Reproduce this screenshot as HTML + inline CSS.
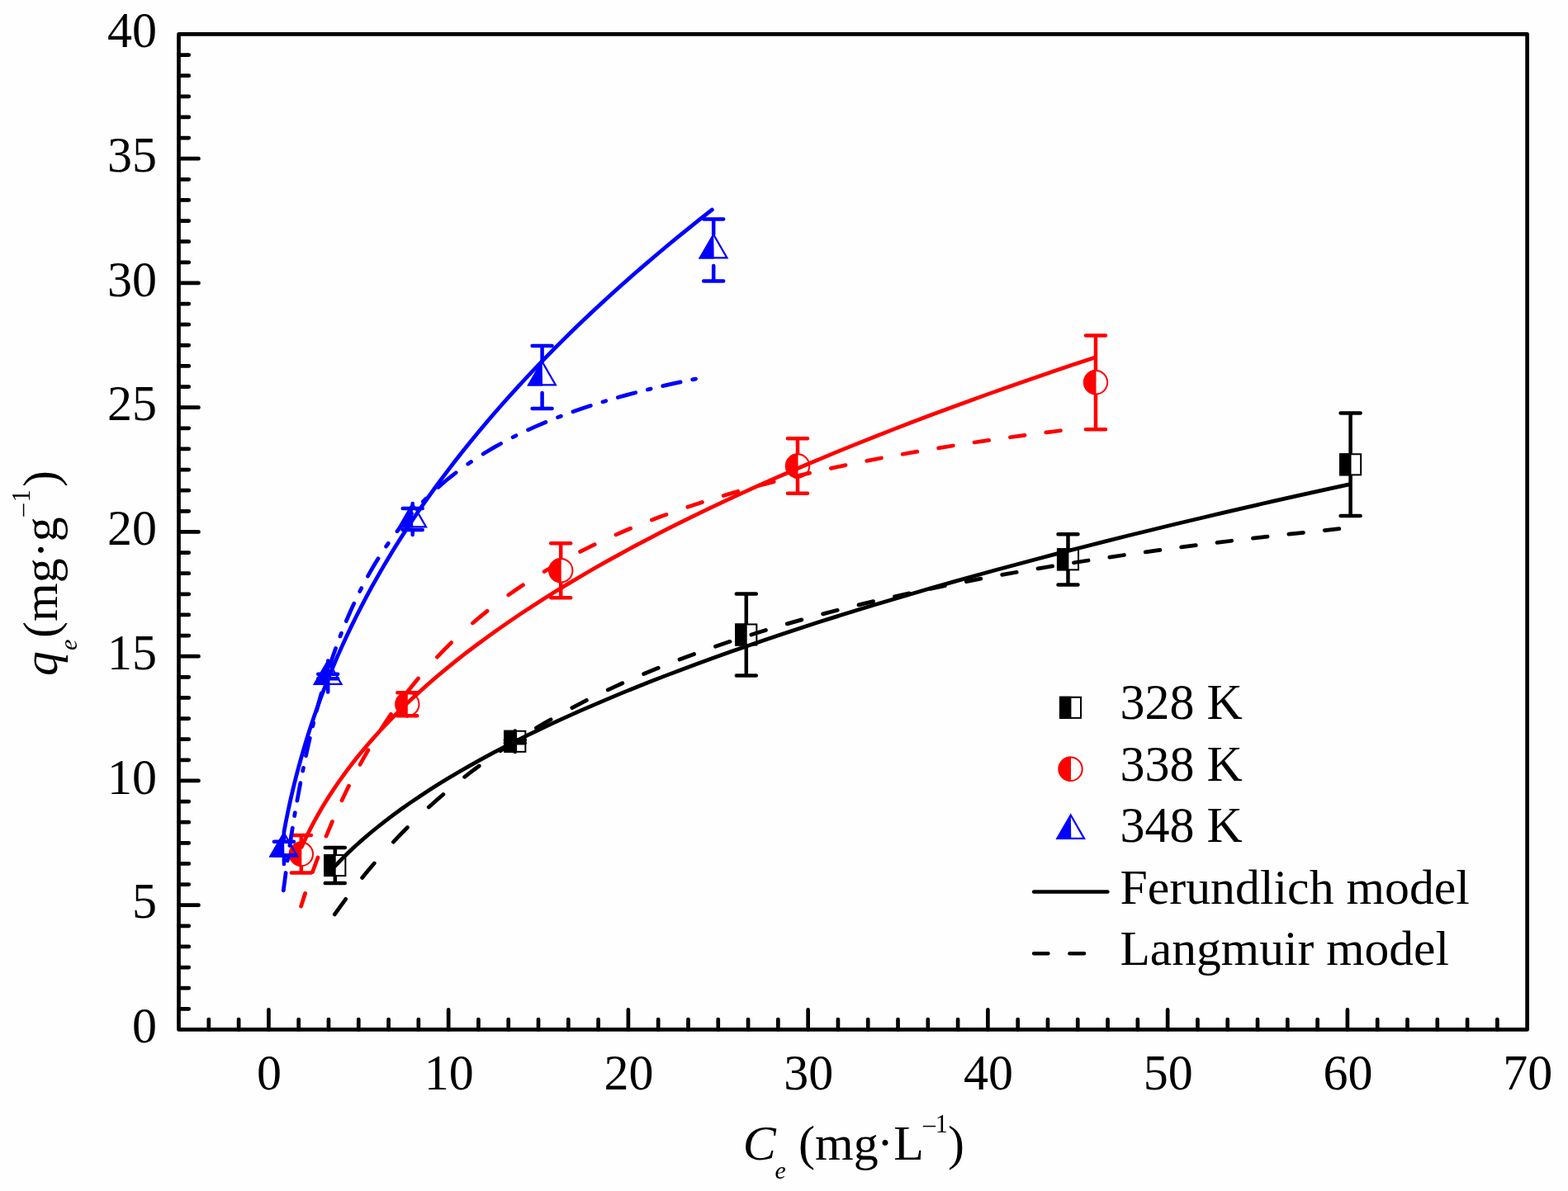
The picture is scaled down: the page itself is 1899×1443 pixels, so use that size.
<!DOCTYPE html>
<html lang="en"><head><meta charset="utf-8"><title>Adsorption isotherms</title>
<style>html,body{margin:0;padding:0;background:#fff}body{width:1899px;height:1443px;overflow:hidden}svg{display:block}text{font-family:"Liberation Serif",serif;fill:#000}</style></head><body>
<svg width="1899" height="1443" viewBox="0 0 1899 1443">
<rect width="1899" height="1443" fill="#fefefe"/>
<g id="data">
<path d="M393.8 1027.1H417.8M393.8 1069.9H417.8M611.8 896.4H635.8M611.8 900.2H635.8M623.8 885.5V896.4M623.8 911.1V900.2M891.8 719.4H915.8M891.8 818.6H915.8M1281.5 647.2H1305.5M1281.5 708.4H1305.5M1623.6 500.6H1647.6M1623.6 625H1647.6" fill="none" stroke="#000" stroke-width="4.5" stroke-linecap="round"/><path d="M405.8 1035.75V1027.1M405.8 1061.25V1069.9M903.8 756.25V719.4M903.8 781.75V818.6M1293.5 665.05V647.2M1293.5 690.55V708.4M1635.6 550.05V500.6M1635.6 575.55V625" fill="none" stroke="#000" stroke-width="4.5"/>
<rect x="392.25" y="1034.95" width="14.45" height="27.1" fill="#000"/><rect x="393.25" y="1035.95" width="25.1" height="25.1" fill="none" stroke="#000" stroke-width="2"/>
<rect x="610.25" y="884.75" width="14.45" height="27.1" fill="#000"/><rect x="611.25" y="885.75" width="25.1" height="25.1" fill="none" stroke="#000" stroke-width="2"/>
<rect x="890.25" y="755.45" width="14.45" height="27.1" fill="#000"/><rect x="891.25" y="756.45" width="25.1" height="25.1" fill="none" stroke="#000" stroke-width="2"/>
<rect x="1279.95" y="664.25" width="14.45" height="27.1" fill="#000"/><rect x="1280.95" y="665.25" width="25.1" height="25.1" fill="none" stroke="#000" stroke-width="2"/>
<rect x="1622.05" y="549.25" width="14.45" height="27.1" fill="#000"/><rect x="1623.05" y="550.25" width="25.1" height="25.1" fill="none" stroke="#000" stroke-width="2"/>
<path d="M352.8 1012H376.8M352.8 1057.6H376.8M481.3 839.2H505.3M481.3 867.2H505.3M493.3 838.7V839.2M493.3 867.7V867.2M667.2 658.2H691.2M667.2 724.2H691.2M954 531.2H978M954 597.8H978M1315 406.4H1339M1315 520.2H1339" fill="none" stroke="#ff0000" stroke-width="4.5" stroke-linecap="round"/><path d="M364.8 1020.4V1012M364.8 1049.2V1057.6M679.2 676.8V658.2M679.2 705.6V724.2M966 550.1V531.2M966 578.9V597.8M1327 448.9V406.4M1327 477.7V520.2" fill="none" stroke="#ff0000" stroke-width="4.5"/>
<path d="M365.3 1019.61A15.2 15.2 0 0 0 365.3 1049.99Z" fill="#ff0000"/><circle cx="364.8" cy="1034.8" r="14.2" fill="none" stroke="#ff0000" stroke-width="2"/>
<path d="M493.8 838.01A15.2 15.2 0 0 0 493.8 868.39Z" fill="#ff0000"/><circle cx="493.3" cy="853.2" r="14.2" fill="none" stroke="#ff0000" stroke-width="2"/>
<path d="M679.7 676.01A15.2 15.2 0 0 0 679.7 706.39Z" fill="#ff0000"/><circle cx="679.2" cy="691.2" r="14.2" fill="none" stroke="#ff0000" stroke-width="2"/>
<path d="M966.5 549.31A15.2 15.2 0 0 0 966.5 579.69Z" fill="#ff0000"/><circle cx="966" cy="564.5" r="14.2" fill="none" stroke="#ff0000" stroke-width="2"/>
<path d="M1327.5 448.11A15.2 15.2 0 0 0 1327.5 478.49Z" fill="#ff0000"/><circle cx="1327" cy="463.3" r="14.2" fill="none" stroke="#ff0000" stroke-width="2"/>
<path d="M331.9 1019.75H355.9M331.9 1036.25H355.9M343.9 1009V1019.75M343.9 1047V1036.25M385.2 816.7H409.2M385.2 822.3H409.2M397.2 800.5V816.7M397.2 838.5V822.3M487.7 615.9H511.7M487.7 642.1H511.7M499.7 610V615.9M499.7 648V642.1M644.6 419.1H668.6M644.6 494.9H668.6M656.6 438V419.1M656.6 476V494.9M852.2 265.6H876.2M852.2 340.4H876.2M864.2 284V265.6M864.2 322V340.4" fill="none" stroke="#0000ff" stroke-width="4.5" stroke-linecap="round"/>
<path d="M343.9 1006.98L325.7 1038.51L344.4 1038.51Z" fill="#0000ff"/><path d="M343.9 1009.18L327.61 1037.41L360.19 1037.41Z" fill="none" stroke="#0000ff" stroke-width="2.2" stroke-linejoin="miter"/>
<path d="M397.2 798.48L379 830.01L397.7 830.01Z" fill="#0000ff"/><path d="M397.2 800.68L380.91 828.91L413.49 828.91Z" fill="none" stroke="#0000ff" stroke-width="2.2" stroke-linejoin="miter"/>
<path d="M499.7 607.98L481.5 639.51L500.2 639.51Z" fill="#0000ff"/><path d="M499.7 610.18L483.41 638.41L515.99 638.41Z" fill="none" stroke="#0000ff" stroke-width="2.2" stroke-linejoin="miter"/>
<path d="M656.6 435.98L638.4 467.51L657.1 467.51Z" fill="#0000ff"/><path d="M656.6 438.18L640.31 466.41L672.89 466.41Z" fill="none" stroke="#0000ff" stroke-width="2.2" stroke-linejoin="miter"/>
<path d="M864.2 281.98L846 313.51L864.7 313.51Z" fill="#0000ff"/><path d="M864.2 284.18L847.91 312.41L880.49 312.41Z" fill="none" stroke="#0000ff" stroke-width="2.2" stroke-linejoin="miter"/>
</g>
<g id="fits" fill="none" stroke-linecap="round" stroke-linejoin="round" stroke-width="4.75">
<path d="M405.97 1049.07 L413.44 1041.33 L421.37 1033.51 L429.58 1025.8 L438.2 1018.07 L447.25 1010.3 L456.41 1002.76 L466.13 995.09 L475.92 987.65 L486.03 980.26 L496.83 972.66 L507.83 965.18 L519.46 957.55 L531.2 950.11 L543.52 942.56 L555.84 935.24 L568.69 927.85 L582.06 920.38 L595.33 913.19 L609.74 905.6 L623.98 898.31 L638.71 890.98 L653.92 883.61 L669.62 876.21 L685.01 869.14 L701.64 861.68 L717.93 854.56 L735.5 847.07 L752.68 839.91 L770.3 832.75 L788.36 825.56 L806.85 818.37 L825.78 811.17 L845.14 803.96 L864.95 796.75 L885.19 789.53 L904.82 782.67 L925.91 775.44 L947.44 768.21 L969.4 760.98 L990.67 754.11 L1013.49 746.88 L1035.57 740.01 L1059.23 732.78 L1082.12 725.91 L1106.64 718.68 L1130.34 711.82 L1155.71 704.6 L1180.21 697.74 L1206.43 690.53 L1231.75 683.68 L1258.82 676.47 L1284.95 669.63 L1312.87 662.43 L1339.8 655.6 L1367.13 648.77 L1394.85 641.94 L1424.46 634.77 L1452.99 627.95 L1481.91 621.14 L1511.23 614.34 L1542.51 607.19 L1572.64 600.39 L1603.16 593.61 L1634.08 586.83" stroke="#000"/>
<path d="M405.31 1107.93 L411.93 1098.59 L418.69 1089.33M438.63 1063.53 L445.77 1054.8 L453.26 1045.93M476.39 1020.13 L484.69 1011.42 L493.45 1002.53M519.25 977.95 L528.17 969.98 L536.85 962.45M562.65 941.36 L571.32 934.67 L580.25 927.98M606.05 909.69 L614.82 903.79 L623.65 898.02M649.45 881.99 L658.15 876.86 L667.05 871.73M692.85 857.58 L701.51 853.05 L710.45 848.48M736.25 835.89 L744.84 831.89 L753.85 827.78M779.65 816.51 L797.25 809.21M823.05 799.06 L840.65 792.48M866.45 783.29 L884.05 777.32M909.85 768.96 L927.45 763.52M953.25 755.88 L970.85 750.9M996.65 743.9 L1014.25 739.32M1040.05 732.88 L1057.65 728.66M1083.45 722.71 L1101.05 718.81M1126.85 713.3 L1144.45 709.67M1170.25 704.56 L1187.85 701.19M1213.65 696.42 L1231.25 693.28M1257.05 688.83 L1274.65 685.9M1300.45 681.73 L1318.05 678.99M1343.85 675.08 L1361.45 672.5M1387.25 668.83 L1404.85 666.41M1430.65 662.95 L1448.25 660.67M1474.05 657.41 L1491.65 655.25M1517.45 652.18 L1535.05 650.13M1560.85 647.22 L1578.45 645.29M1604.25 642.54 L1621.85 640.7" stroke="#000"/>
<path d="M365.25 1026.34 L370.14 1015.75 L375.24 1005.4 L380.66 995.08 L386.29 984.99 L392.14 975.06 L398.48 964.88 L405.22 954.61 L412.02 944.77 L419.35 934.66 L426.89 924.74 L434.58 915.07 L442.72 905.26 L451.31 895.34 L459.95 885.76 L469 876.11 L478.47 866.39 L488.35 856.63 L498.17 847.27 L508.36 837.89 L518.93 828.48 L529.87 819.05 L541.2 809.61 L552.89 800.16 L564.97 790.7 L577.42 781.25 L590.25 771.79 L603.45 762.34 L616.38 753.34 L630.32 743.9 L643.95 734.92 L658.62 725.49 L672.95 716.53 L688.36 707.13 L703.39 698.19 L719.53 688.82 L735.26 679.91 L752.14 670.57 L768.56 661.69 L785.33 652.83 L802.44 643.98 L820.77 634.7 L838.58 625.88 L857.65 616.64 L876.16 607.86 L895.96 598.66 L915.17 589.91 L934.73 581.18 L954.62 572.47 L974.85 563.77 L995.43 555.09 L1016.35 546.43 L1038.68 537.35 L1060.3 528.72 L1082.25 520.11 L1104.55 511.52 L1128.34 502.51 L1151.34 493.95 L1174.68 485.41 L1198.36 476.89 L1223.6 467.95 L1247.98 459.46 L1273.95 450.57 L1299.04 442.11 L1325.74 433.25" stroke="#ff0000"/>
<path d="M364.59 1097.95 L369.65 1082.35M378.51 1056.55 L384.96 1038.95M395.05 1013.15 L398.71 1004.29 L402.42 995.55M414.02 969.75 L418.2 960.98 L422.53 952.15M436 926.35 L441 917.35 L445.94 908.75M461.76 882.95 L467.42 874.32 L473.52 865.35M492.39 839.55 L499.17 830.93 L506.51 821.95M529.38 796.15 L537.84 787.35 L546.61 778.61M572.41 754.94 L581.38 747.35 L590.01 740.35M615.81 720.88 L624.55 714.76 L633.41 708.77M659.21 692.48 L668.09 687.25 L676.81 682.27M702.61 668.44 L711.21 664.11 L720.21 659.71M746.01 647.83 L754.79 644.01 L763.61 640.28M789.41 629.95 L798.41 626.54 L807.01 623.36M832.81 614.31 L850.41 608.5M876.21 600.5 L893.81 595.35M919.61 588.22 L937.21 583.62M963.01 577.23 L980.61 573.1M1006.41 567.34 L1024.01 563.61M1049.81 558.39 L1067.41 555M1093.21 550.26 L1110.81 547.16M1136.61 542.83 L1154.21 539.99M1180.01 536.01 L1197.61 533.41M1223.41 529.74 L1241.01 527.34M1266.81 523.96 L1284.41 521.74" stroke="#ff0000"/>
<path d="M343.91 1007.99 L346.4 994.87 L349.02 981.99 L351.88 968.88 L354.86 956.04 L357.97 943.44 L361.33 930.53 L364.79 918.01 L368.4 905.57 L372.3 892.8 L376.31 880.28 L380.41 868.08 L384.75 855.71 L389.33 843.2 L393.95 831.12 L398.78 818.96 L403.84 806.72 L409.13 794.42 L414.38 782.63 L420.09 770.23 L425.76 758.37 L431.63 746.49 L437.7 734.58 L443.98 722.66 L450.46 710.73 L457.14 698.8 L464.03 686.86 L471.12 674.93 L478.06 663.56 L485.54 651.63 L493.23 639.71 L501.12 627.79 L508.83 616.46 L517.12 604.56 L525.2 593.25 L533.89 581.38 L542.35 570.09 L551.43 558.25 L560.27 546.99 L569.75 535.19 L578.97 523.96 L588.84 512.18 L598.44 500.99 L608.71 489.25 L618.69 478.08 L629.36 466.38 L639.71 455.25 L650.24 444.14 L660.96 433.05 L672.42 421.42 L683.51 410.36 L694.79 399.32 L706.26 388.29 L717.91 377.29 L730.34 365.75 L742.37 354.78 L755.2 343.27 L767.6 332.34 L780.83 320.87 L793.61 309.97 L807.24 298.55 L820.4 287.68 L834.42 276.29 L847.96 265.46 L862.37 254.1" stroke="#0000ff"/>
<path d="M343.26 1078.91 L346.12 1057.51M348.18 1042.91 L348.73 1039.11M350.9 1024.51 L354.25 1003.11M356.66 988.51 L357.3 984.71M359.86 970.11 L363.82 948.71M366.69 934.11 L367.46 930.31M370.51 915.71 L372.85 904.99 L375.27 894.31M378.74 879.71 L379.67 875.91M383.38 861.31 L386.3 850.37 L389.21 839.91M393.49 825.31 L394.64 821.51M399.25 806.91 L402.96 795.81 L406.56 785.51M411.96 770.91 L413.42 767.11M419.31 752.51 L423.93 741.71 L428.72 731.11M435.76 716.51 L437.68 712.71M445.45 698.11 L448.68 692.37 L451.77 687.05 L454.9 681.81 L458.04 676.71M467.6 662.11 L470.23 658.31M480.94 643.71 L485.49 637.91 L489.8 632.61 L494.18 627.43 L498.65 622.31M512.35 607.71 L516.14 603.93M530.74 590.33 L536.03 585.75 L541.04 581.55 L546.54 577.11 L552.14 572.75M566.74 562.1 L570.54 559.49M585.14 550 L590.45 546.74 L595.65 543.66 L600.9 540.63 L606.54 537.47M621.14 529.75 L624.94 527.84M639.54 520.84 L650.06 516.11 L660.94 511.47M675.54 505.62 L679.34 504.16M693.94 498.78 L704.65 495.06 L715.34 491.51M729.94 486.92 L733.74 485.77M748.34 481.51 L758.82 478.61 L769.74 475.7M784.34 472.01 L788.14 471.08M802.74 467.62 L813.52 465.19 L824.14 462.88M838.74 459.84 L842.54 459.07" stroke="#0000ff"/>
</g>
<g id="axes" fill="none" stroke="#000" stroke-width="4.7" stroke-linecap="round" stroke-linejoin="round">
<rect x="216.5" y="41.4" width="1633.1" height="1206"/>
<path d="M252.82 1247.4V1235.1M289.11 1247.4V1235.1M325.4 1247.4V1223.4M361.69 1247.4V1235.1M397.98 1247.4V1235.1M434.27 1247.4V1235.1M470.57 1247.4V1235.1M506.86 1247.4V1235.1M543.15 1247.4V1223.4M579.44 1247.4V1235.1M615.73 1247.4V1235.1M652.02 1247.4V1235.1M688.32 1247.4V1235.1M724.61 1247.4V1235.1M760.9 1247.4V1223.4M797.19 1247.4V1235.1M833.48 1247.4V1235.1M869.77 1247.4V1235.1M906.07 1247.4V1235.1M942.36 1247.4V1235.1M978.65 1247.4V1223.4M1014.94 1247.4V1235.1M1051.23 1247.4V1235.1M1087.53 1247.4V1235.1M1123.82 1247.4V1235.1M1160.11 1247.4V1235.1M1196.4 1247.4V1223.4M1232.69 1247.4V1235.1M1268.98 1247.4V1235.1M1305.27 1247.4V1235.1M1341.57 1247.4V1235.1M1377.86 1247.4V1235.1M1414.15 1247.4V1223.4M1450.44 1247.4V1235.1M1486.73 1247.4V1235.1M1523.03 1247.4V1235.1M1559.32 1247.4V1235.1M1595.61 1247.4V1235.1M1631.9 1247.4V1223.4M1668.19 1247.4V1235.1M1704.48 1247.4V1235.1M1740.78 1247.4V1235.1M1777.07 1247.4V1235.1M1813.36 1247.4V1235.1M216.5 1222.28H228.8M216.5 1197.15H228.8M216.5 1172.03H228.8M216.5 1146.9H228.8M216.5 1121.78H228.8M216.5 1096.65H240.5M216.5 1071.53H228.8M216.5 1046.4H228.8M216.5 1021.28H228.8M216.5 996.15H228.8M216.5 971.03H228.8M216.5 945.9H240.5M216.5 920.78H228.8M216.5 895.65H228.8M216.5 870.53H228.8M216.5 845.4H228.8M216.5 820.28H228.8M216.5 795.15H240.5M216.5 770.03H228.8M216.5 744.9H228.8M216.5 719.78H228.8M216.5 694.65H228.8M216.5 669.53H228.8M216.5 644.4H240.5M216.5 619.28H228.8M216.5 594.15H228.8M216.5 569.03H228.8M216.5 543.9H228.8M216.5 518.78H228.8M216.5 493.65H240.5M216.5 468.53H228.8M216.5 443.4H228.8M216.5 418.28H228.8M216.5 393.15H228.8M216.5 368.03H228.8M216.5 342.9H240.5M216.5 317.78H228.8M216.5 292.65H228.8M216.5 267.53H228.8M216.5 242.4H228.8M216.5 217.28H228.8M216.5 192.15H240.5M216.5 167.03H228.8M216.5 141.9H228.8M216.5 116.78H228.8M216.5 91.65H228.8M216.5 66.53H228.8"/>
</g>
<g id="ticklabels" font-size="60">
<text transform="translate(190 1263) scale(1 1.03)" text-anchor="end">0</text>
<text transform="translate(190 1112.25) scale(1 1.03)" text-anchor="end">5</text>
<text transform="translate(190 961.5) scale(1 1.03)" text-anchor="end">10</text>
<text transform="translate(190 810.75) scale(1 1.03)" text-anchor="end">15</text>
<text transform="translate(190 660) scale(1 1.03)" text-anchor="end">20</text>
<text transform="translate(190 509.25) scale(1 1.03)" text-anchor="end">25</text>
<text transform="translate(190 358.5) scale(1 1.03)" text-anchor="end">30</text>
<text transform="translate(190 207.75) scale(1 1.03)" text-anchor="end">35</text>
<text transform="translate(190 57) scale(1 1.03)" text-anchor="end">40</text>
<text transform="translate(325.9 1319.6) scale(1 1.03)" text-anchor="middle">0</text>
<text transform="translate(543.65 1319.6) scale(1 1.03)" text-anchor="middle">10</text>
<text transform="translate(761.4 1319.6) scale(1 1.03)" text-anchor="middle">20</text>
<text transform="translate(979.15 1319.6) scale(1 1.03)" text-anchor="middle">30</text>
<text transform="translate(1196.9 1319.6) scale(1 1.03)" text-anchor="middle">40</text>
<text transform="translate(1414.65 1319.6) scale(1 1.03)" text-anchor="middle">50</text>
<text transform="translate(1632.4 1319.6) scale(1 1.03)" text-anchor="middle">60</text>
<text transform="translate(1850.15 1319.6) scale(1 1.03)" text-anchor="middle">70</text>
</g>
<g id="xtitle" font-size="60">
<text x="899.7" y="1405" font-style="italic">C</text>
<text x="938.5" y="1427.8" font-size="30" font-style="italic">e</text>
<text x="967" y="1405">(mg</text>
<text x="1061.9" y="1404.2">·</text>
<text x="1082.2" y="1405">L</text>
<text x="1118" y="1371.8" font-size="30">–</text>
<text transform="translate(1132.7 1371.9) scale(1 1.03)" font-size="30.5">1</text>
<text x="1148" y="1405">)</text>
</g>
<g id="ytitle" font-size="60" transform="translate(68.8 0) rotate(-90)">
<text x="-819" y="0" font-style="italic">q</text>
<text x="-788" y="24.4" font-size="30" font-style="italic">e</text>
<text x="-773" y="0">(mg·g</text>
<text x="-625.5" y="-33.3" font-size="30">–</text>
<text transform="translate(-608.6 -33.3) scale(1 1.03)" font-size="30.5">1</text>
<text x="-590" y="0">)</text>
</g>
<g id="legend" font-size="60">
<rect x="1282.95" y="843.75" width="14.45" height="27.1" fill="#000"/><rect x="1283.95" y="844.75" width="25.1" height="25.1" fill="none" stroke="#000" stroke-width="2"/>
<path d="M1297 916.61A15.2 15.2 0 0 0 1297 946.99Z" fill="#ff0000"/><circle cx="1296.5" cy="931.8" r="14.2" fill="none" stroke="#ff0000" stroke-width="2"/>
<path d="M1296.8 985.48L1278.6 1017.01L1297.3 1017.01Z" fill="#0000ff"/><path d="M1296.8 987.68L1280.51 1015.91L1313.09 1015.91Z" fill="none" stroke="#0000ff" stroke-width="2.2" stroke-linejoin="miter"/>
<path d="M1252.1 1080.4H1341.4" stroke="#000" stroke-width="4.5" stroke-linecap="round" fill="none"/>
<path d="M1252.1 1155.2H1269.4M1295.4 1155.2H1313" stroke="#000" stroke-width="4.5" stroke-linecap="round" fill="none"/>
<text transform="translate(1356.5 871.2) scale(1 1.025)">328 K</text>
<text transform="translate(1356.5 945.65) scale(1 1.025)">338 K</text>
<text transform="translate(1356.5 1020.1) scale(1 1.025)">348 K</text>
<text transform="translate(1356.5 1094.55) scale(0.9967 1)">Ferundlich model</text>
<text transform="translate(1356.5 1169) scale(0.9927 1)">Langmuir model</text>
</g>
</svg></body></html>
